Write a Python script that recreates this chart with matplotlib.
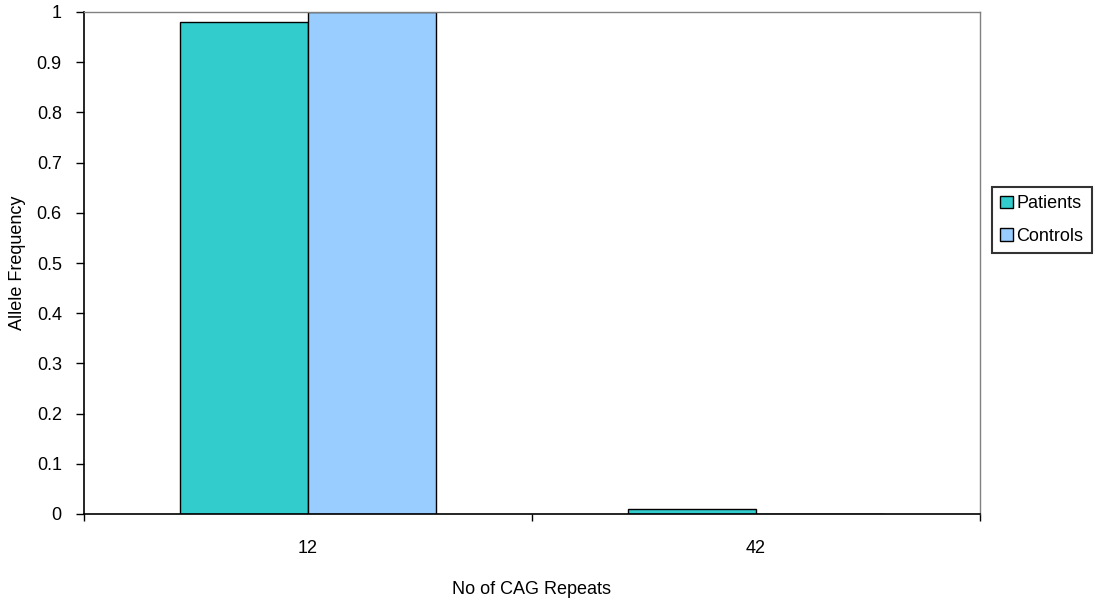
import matplotlib.pyplot as plt
import numpy as np

# CAG repeat lengths and allele frequencies per group
repeats = ['12', '42']
patients = [0.98, 0.01]
controls = [1.0, 0.0]

plt.rcParams['font.family'] = ['Liberation Sans', 'DejaVu Sans']
FS = 13

fig = plt.figure(figsize=(11.1, 6.0), dpi=100)
ax = fig.add_axes([84 / 1110, 86 / 600, 896 / 1110, 502 / 600])

x = np.arange(len(repeats))
width = 0.2857

ax.bar(x - width / 2, patients, width, color='#33CCCC', edgecolor='black',
       linewidth=1.0, label='Patients')
ax.bar(x + width / 2, controls, width, color='#99CCFF', edgecolor='black',
       linewidth=1.0, label='Controls')

ax.set_xlim(-0.5, len(repeats) - 0.5)
ax.set_ylim(0, 1)
ax.set_yticks(np.arange(0, 1.01, 0.1))
ax.set_yticklabels(['0'] + [f'{v:.1f}' for v in np.arange(0.1, 0.95, 0.1)] + ['1'])

# category labels sit between the tick marks
ax.set_xticks(np.arange(-0.5, len(repeats), 1.0))
ax.set_xticklabels([])
ax.set_xticks(x, minor=True)
ax.set_xticklabels(repeats, minor=True)
ax.tick_params(axis='x', which='minor', length=0, pad=19, labelsize=FS)
ax.tick_params(axis='x', which='major', length=5, width=1.0, color='black')
ax.tick_params(axis='y', length=6, width=1.0, labelsize=FS, pad=10)

ax.set_xlabel('No of CAG Repeats', fontsize=FS, labelpad=17)
ax.set_ylabel('Allele Frequency', fontsize=FS, labelpad=8)

for side in ['left', 'bottom']:
    ax.spines[side].set_color('black')
    ax.spines[side].set_linewidth(1.2)
for side in ['top', 'right']:
    ax.spines[side].set_color('#808080')
    ax.spines[side].set_linewidth(1.0)

leg = ax.legend(loc='center left', bbox_to_anchor=(992 / 1110, 380 / 600),
                bbox_transform=fig.transFigure, fontsize=FS, frameon=True,
                fancybox=False, edgecolor='black', handlelength=0.7,
                handleheight=0.7, handletextpad=0.2, borderpad=0.45,
                labelspacing=0.85, borderaxespad=0)
leg.get_frame().set_linewidth(1.5)

fig.savefig('out.png', dpi=100)
